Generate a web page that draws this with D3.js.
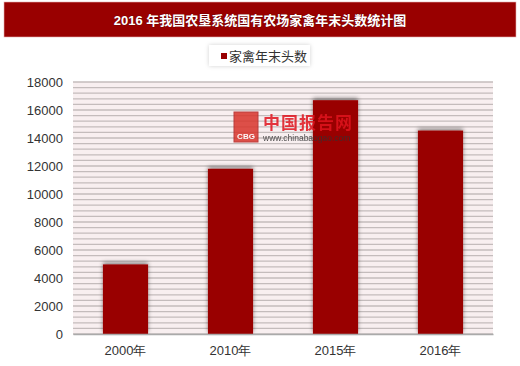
<!DOCTYPE html>
<html>
<head>
<meta charset="utf-8">
<script src="https://cdn.jsdelivr.net/npm/d3@7"></script>
<style>
  body { margin: 0; background: #fff; }
  svg { display: block; font-family: "Liberation Sans", "Noto Sans CJK SC", sans-serif; }
</style>
</head>
<body>
<svg id="chart" width="520" height="366"></svg>
<script>
// data
var years = ["2000年", "2010年", "2015年", "2016年"];
var poultry = [4970, 11800, 16700, 14530];
var yTicks = [0, 2000, 4000, 6000, 8000, 10000, 12000, 14000, 16000, 18000];
var seriesName = "家禽年末头数";
var titleText = "2016 年我国农垦系统国有农场家禽年末头数统计图";

var W = 520, H = 366;
var margin = {left: 73, right: 27, top: 82, bottom: 32};

var svg = d3.select("#chart");

var defs = svg.append("defs");
var f = defs.append("filter").attr("id", "shadow")
    .attr("x", "-30%").attr("y", "-30%").attr("width", "160%").attr("height", "160%");
f.append("feDropShadow").attr("dx", 0).attr("dy", -2).attr("stdDeviation", 2)
    .attr("flood-color", "#000").attr("flood-opacity", 0.45);
var f2 = defs.append("filter").attr("id", "lshadow")
    .attr("x", "-20%").attr("y", "-40%").attr("width", "140%").attr("height", "180%");
f2.append("feDropShadow").attr("dx", 0).attr("dy", 0).attr("stdDeviation", 2)
    .attr("flood-color", "#000").attr("flood-opacity", 0.18);

// title banner
svg.append("rect").attr("x", 4).attr("y", 2).attr("width", 512).attr("height", 35)
    .attr("fill", "#990000").attr("stroke", "#e8b0b0").attr("stroke-width", 0.6);
svg.append("text").attr("x", 260).attr("y", 24.5).attr("text-anchor", "middle")
    .attr("fill", "#fff").attr("font-size", 13).attr("font-weight", "bold")
    .style("paint-order", "stroke").attr("stroke", "rgba(0,0,0,0.25)").attr("stroke-width", 1)
    .text(titleText);

// legend
var lg = svg.append("g");
lg.append("rect").attr("x", 209).attr("y", 45).attr("width", 101).attr("height", 21)
    .attr("fill", "#fff").attr("filter", "url(#lshadow)");
lg.append("rect").attr("x", 221).attr("y", 53).attr("width", 6).attr("height", 6).attr("fill", "#990000");
lg.append("text").attr("x", 229).attr("y", 61).attr("font-size", 13).attr("fill", "#333")
    .text(seriesName);

var x = d3.scaleBand().domain(years).range([margin.left, W - margin.right]).paddingInner(0.57).paddingOuter(0.285);
var y = d3.scaleLinear().domain([0, 18000]).range([H - margin.bottom, margin.top]);

// plot background + striped gridlines (every 400)
svg.append("rect").attr("x", margin.left).attr("y", margin.top)
    .attr("width", W - margin.left - margin.right).attr("height", y(0) - margin.top)
    .attr("fill", "#f8eff0");
svg.append("g").selectAll("line").data(d3.range(0, 18001, 400)).join("line")
    .attr("x1", margin.left).attr("x2", W - margin.right)
    .attr("y1", d => y(d)).attr("y2", d => y(d))
    .attr("stroke", "#c4bcbc").attr("stroke-width", 1.3);

// bars
svg.append("g").selectAll("rect").data(poultry).join("rect")
    .attr("x", (d, i) => x(years[i]))
    .attr("y", d => y(d))
    .attr("width", x.bandwidth())
    .attr("height", d => y(0) - y(d))
    .attr("fill", "#990000")
    .attr("filter", "url(#shadow)");

// watermark (sits over the bars)
var wm = svg.append("g").attr("opacity", 0.85);
wm.append("rect").attr("x", 234).attr("y", 112).attr("width", 24).attr("height", 30)
    .attr("fill", "#d9342b").attr("stroke", "#b02020");
wm.append("text").attr("x", 246).attr("y", 139).attr("text-anchor", "middle")
    .attr("font-size", 8).attr("font-weight", "bold").attr("fill", "#fff").text("CBG");
wm.append("text").attr("x", 263).attr("y", 129).attr("font-size", 17).attr("font-weight", "bold")
    .attr("fill", "#e0141e").attr("letter-spacing", 1).text("中国报告网");
wm.append("text").attr("x", 263).attr("y", 141).attr("font-size", 8.5).attr("fill", "#333")
    .text("www.chinabaogao.com");

// axes
var yAxis = svg.append("g").attr("transform", "translate(" + margin.left + ",0)")
    .call(d3.axisLeft(y).tickValues(yTicks).tickFormat(d3.format("d")).tickSize(0).tickPadding(10));
yAxis.select(".domain").remove();
yAxis.selectAll("text").attr("font-size", 13).attr("fill", "#333");

var xAxis = svg.append("g").attr("transform", "translate(0," + y(0) + ")")
    .call(d3.axisBottom(x).tickSize(0).tickPadding(12));
xAxis.select(".domain").attr("stroke", "#aaa").attr("stroke-width", 1.3);
xAxis.selectAll("text").attr("font-size", 13).attr("fill", "#333");
</script>
</body>
</html>
